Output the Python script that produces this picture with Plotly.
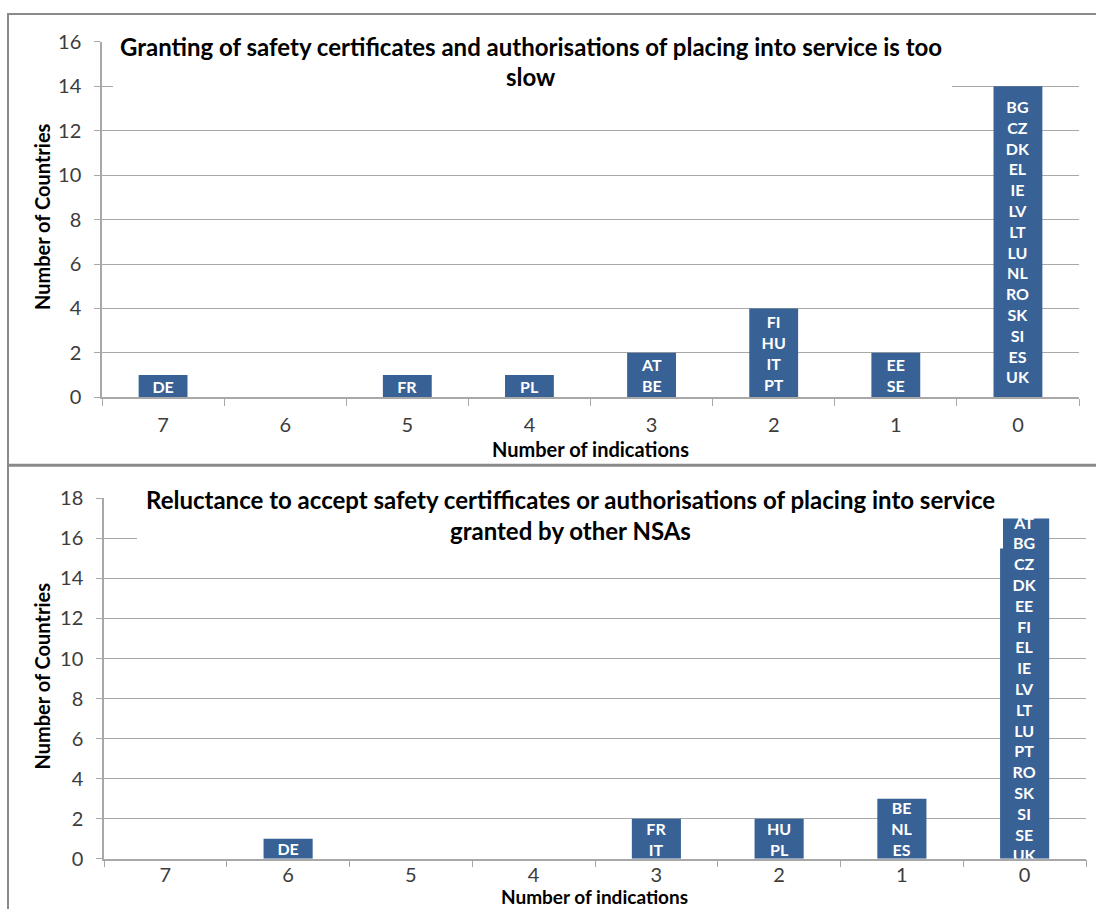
import plotly.graph_objects as go

# ---------------- data ----------------
categories = ['7', '6', '5', '4', '3', '2', '1', '0']

top_title_lines = ["Granting of safety certificates and authorisations of placing into service is too",
                   "slow"]
top_counts = [1, 0, 1, 1, 2, 4, 2, 14]
top_labels = [['DE'], [], ['FR'], ['PL'], ['AT', 'BE'], ['FI', 'HU', 'IT', 'PT'], ['EE', 'SE'],
              ['BG', 'CZ', 'DK', 'EL', 'IE', 'LV', 'LT', 'LU', 'NL', 'RO', 'SK', 'SI', 'ES', 'UK']]

bottom_title_lines = ["Reluctance to accept safety certifficates or authorisations of placing into service",
                      "granted by other NSAs"]
bottom_counts = [0, 1, 0, 0, 2, 2, 3, 17]
bottom_labels = [[], ['DE'], [], [], ['FR', 'IT'], ['HU', 'PL'], ['BE', 'NL', 'ES'],
                 ['AT', 'BG', 'CZ', 'DK', 'EE', 'FI', 'EL', 'IE', 'LV', 'LT', 'LU', 'PT', 'RO',
                  'SK', 'SI', 'SE', 'UK']]

x_title = "Number of indications"
y_title = "Number of Countries"

# ---------------- styling ----------------
W, H = 1096, 920
FONT = "Lato"
BAR_COLOR = "#386195"
GRID = "#a8a8a8"
FRAME = "#8a8a8a"
TICKFONT = dict(family=FONT, size=20, color="#3c3c3c")
TITLE_SIZE = 24
AXTITLE_SIZE = 20
BARTEXT_SIZE = 16

# vertical calibration of the photographed page
Y_OFF, Y_SCALE = 13.1, 0.973


def px(x):
    return x / W


def py(y):
    return 1 - ((y - Y_OFF) / Y_SCALE) / H


fig = go.Figure()

for xa, ya, counts, labels in [('x', 'y', top_counts, top_labels),
                               ('x2', 'y2', bottom_counts, bottom_labels)]:
    fig.add_trace(go.Bar(
        x=categories, y=counts, text=['<br>'.join(l) for l in labels],
        xaxis=xa, yaxis=ya, marker=dict(color=BAR_COLOR, line=dict(width=0)),
        width=0.4, textposition='inside', insidetextanchor='middle', textangle=0,
        textfont=dict(family=FONT, size=BARTEXT_SIZE, color='white', weight='bold'),
        hoverinfo='x+y', showlegend=False))

xcommon = dict(type='category', categoryorder='array', categoryarray=categories,
               range=[-0.5, 7.5], tickson='boundaries', ticks='outside', ticklen=7,
               tickcolor=GRID, showline=True, linecolor=GRID, linewidth=1.5,
               showgrid=False, zeroline=False, tickfont=TICKFONT, fixedrange=True)
ycommon = dict(dtick=2, ticks='outside', ticklen=6, tickcolor=GRID, showline=True,
               linecolor=GRID, linewidth=1.5, showgrid=True, gridcolor=GRID, gridwidth=1,
               zeroline=False, tickfont=TICKFONT, ticklabelstandoff=9, fixedrange=True)

fig.update_layout(
    width=W, height=H, autosize=False,
    margin=dict(l=0, r=0, t=0, b=0),
    paper_bgcolor='white', plot_bgcolor='white',
    uniformtext=dict(minsize=BARTEXT_SIZE, mode='show'),
    xaxis=dict(domain=[px(102), px(1079)], anchor='y', ticklabelstandoff=9, **xcommon),
    yaxis=dict(domain=[py(397), py(42)], range=[0, 16], anchor='x', **ycommon),
    xaxis2=dict(domain=[px(104), px(1086)], anchor='y2', ticklabelstandoff=-2, **xcommon),
    yaxis2=dict(domain=[py(858), py(498)], range=[0, 18], anchor='x2', **ycommon),
)

# white boxes behind chart titles (cover gridlines like the original)
fig.add_shape(type='rect', xref='paper', yref='paper', x0=px(113), x1=px(952), y0=py(96), y1=py(28),
              fillcolor='white', line=dict(width=0), layer='above')
fig.add_shape(type='rect', xref='paper', yref='paper', x0=px(137), x1=px(1003), y0=py(548), y1=py(484),
              fillcolor='white', line=dict(width=0), layer='above')

# panel frames
fig.add_shape(type='line', xref='paper', yref='paper', x0=px(8), x1=1, y0=1 - 1 / H, y1=1 - 1 / H,
              line=dict(color=FRAME, width=2))
fig.add_shape(type='line', xref='paper', yref='paper', x0=px(8), x1=px(8), y0=1, y1=0,
              line=dict(color=FRAME, width=2))
fig.add_shape(type='line', xref='paper', yref='paper', x0=px(8), x1=1, y0=py(465), y1=py(465),
              line=dict(color=FRAME, width=3))

# titles
for line, yc in zip(top_title_lines, [47, 77]):
    fig.add_annotation(text=line, xref='paper', yref='paper', x=px(531), y=py(yc),
                       xanchor='center', yanchor='middle', showarrow=False,
                       font=dict(family=FONT, size=TITLE_SIZE, color='black', weight='bold'))
for line, yc in zip(bottom_title_lines, [499, 530]):
    fig.add_annotation(text=line, xref='paper', yref='paper', x=px(570), y=py(yc),
                       xanchor='center', yanchor='middle', showarrow=False,
                       font=dict(family=FONT, size=TITLE_SIZE, color='black', weight='bold'))

# axis titles
fig.add_annotation(text=x_title, xref='paper', yref='paper', x=px(590), y=py(449),
                   xanchor='center', yanchor='middle', showarrow=False,
                   font=dict(family=FONT, size=AXTITLE_SIZE, color='black', weight='bold'))
fig.add_annotation(text=x_title, xref='paper', yref='paper', x=px(594), y=0,
                   xanchor='center', yanchor='bottom', showarrow=False, borderpad=0,
                   font=dict(family=FONT, size=19, color='black', weight='bold'))
for yc in [217, 676]:
    fig.add_annotation(text=y_title, xref='paper', yref='paper', x=px(42), y=py(yc),
                       xanchor='center', yanchor='middle', showarrow=False, textangle=-90,
                       font=dict(family=FONT, size=AXTITLE_SIZE, color='black', weight='bold'))

fig.write_html(
    "out.html",
    config={'displayModeBar': False},
    post_script=("var gd=document.getElementById('{plot_id}');"
                 "gd.style.position='fixed';gd.style.left='0px';gd.style.top='0px';"
                 "document.body.style.margin='0';document.body.style.overflow='hidden';"))
